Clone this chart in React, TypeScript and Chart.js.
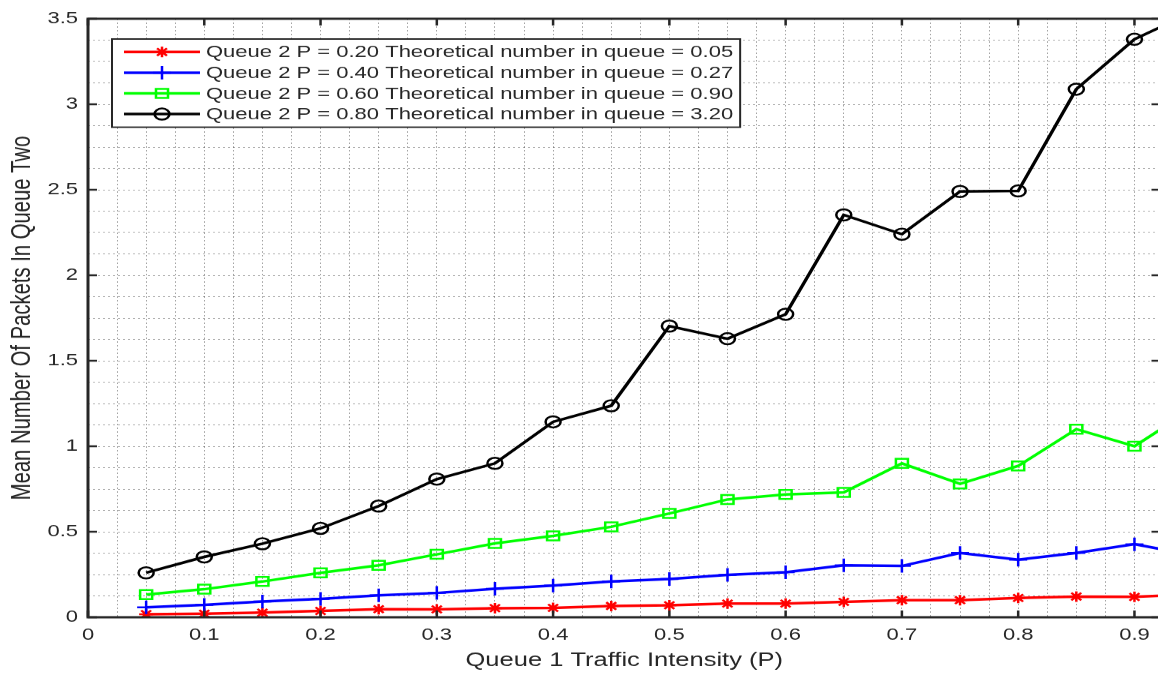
import React, { useEffect, useRef } from 'react';
import { Chart, registerables } from 'chart.js';

Chart.register(...registerables);

// ---------- data ----------
const xValues = [0.05, 0.1, 0.15, 0.2, 0.25, 0.3, 0.35, 0.4, 0.45, 0.5, 0.55, 0.6, 0.65, 0.7, 0.75, 0.8, 0.85, 0.9, 0.95];
const queue2P20 = [0.018, 0.021, 0.027, 0.037, 0.047, 0.046, 0.053, 0.055, 0.066, 0.07, 0.08, 0.08, 0.09, 0.1, 0.1, 0.113, 0.121, 0.119, 0.135];
const queue2P40 = [0.058, 0.072, 0.092, 0.107, 0.128, 0.142, 0.167, 0.185, 0.209, 0.224, 0.248, 0.263, 0.304, 0.3, 0.376, 0.337, 0.376, 0.427, 0.365];
const queue2P60 = [0.133, 0.164, 0.209, 0.26, 0.304, 0.368, 0.432, 0.476, 0.529, 0.607, 0.689, 0.718, 0.73, 0.9, 0.78, 0.885, 1.1, 1.0, 1.22];
const queue2P80 = [0.26, 0.353, 0.43, 0.52, 0.65, 0.808, 0.9, 1.143, 1.237, 1.703, 1.629, 1.772, 2.353, 2.24, 2.49, 2.493, 3.088, 3.38, 3.54];

const seriesLabels = [
  'Queue 2 P = 0.20 Theoretical number in queue = 0.05',
  'Queue 2 P = 0.40 Theoretical number in queue = 0.27',
  'Queue 2 P = 0.60 Theoretical number in queue = 0.90',
  'Queue 2 P = 0.80 Theoretical number in queue = 3.20',
];
const xTickLabels = ['0', '0.1', '0.2', '0.3', '0.4', '0.5', '0.6', '0.7', '0.8', '0.9'];
const yTickLabels = ['0', '0.5', '1', '1.5', '2', '2.5', '3', '3.5'];
const xAxisTitle = 'Queue 1 Traffic Intensity (P)';
const yAxisTitle = 'Mean Number Of Packets In Queue Two';

// ---------- styling ----------
const CANVAS_W = 1172;
const CANVAS_H = 900;
const SQUASH = 0.75;
const FONT = "'Liberation Sans', Arial, Helvetica, sans-serif";
const AXIS_COLOR = '#262626';
const GRID_COLOR = 'rgba(38,38,38,0.42)';

const seriesStyles = [
  { color: '#ff0000', pointStyle: 'star', radius: 7 },
  { color: '#0000ff', pointStyle: 'cross', radius: 9 },
  { color: '#00ff00', pointStyle: 'rect', radius: 8.5 },
  { color: '#000000', pointStyle: 'circle', radius: 7.5 },
];
const seriesValues = [queue2P20, queue2P40, queue2P60, queue2P80];

function drawMarker(ctx: CanvasRenderingContext2D, style: string, x: number, y: number, r: number) {
  ctx.beginPath();
  if (style === 'star' || style === 'cross') {
    const angles = style === 'star' ? [0, 45, 90, 135] : [0, 90];
    for (const a of angles) {
      const rad = (a * Math.PI) / 180;
      ctx.moveTo(x + Math.cos(rad) * r, y + Math.sin(rad) * r);
      ctx.lineTo(x - Math.cos(rad) * r, y - Math.sin(rad) * r);
    }
  } else if (style === 'rect') {
    const s = r * Math.SQRT1_2;
    ctx.rect(x - s, y - s, 2 * s, 2 * s);
  } else {
    ctx.arc(x, y, r, 0, Math.PI * 2);
  }
  ctx.stroke();
}

const frameAndLegend = {
  id: 'frameAndLegend',
  afterDatasetsDraw(chart: any) {
    const { ctx, chartArea } = chart;
    const { left, right, top, bottom } = chartArea;
    const xs = chart.scales.x;
    const ys = chart.scales.y;
    ctx.save();
    ctx.strokeStyle = AXIS_COLOR;
    ctx.lineWidth = 2.5;
    const tl = 9;
    ctx.beginPath();
    for (const lab of xTickLabels) {
      const px = xs.getPixelForValue(parseFloat(lab));
      ctx.moveTo(px, bottom);
      ctx.lineTo(px, bottom - tl);
      ctx.moveTo(px, top);
      ctx.lineTo(px, top + tl);
    }
    for (const lab of yTickLabels) {
      const py = ys.getPixelForValue(parseFloat(lab));
      ctx.moveTo(left, py);
      ctx.lineTo(left + tl, py);
      ctx.moveTo(right, py);
      ctx.lineTo(right - tl, py);
    }
    ctx.stroke();
    ctx.lineWidth = 3;
    ctx.strokeRect(left, top, right - left, bottom - top);

    // legend
    const boxL = 112;
    const boxT = 52;
    const rowH = 27.6;
    const firstRow = 69.3;
    const lineX0 = 124;
    const lineX1 = 200;
    const markX = 162;
    const textX = 206;
    ctx.font = `22px ${FONT}`;
    let maxW = 0;
    for (const s of seriesLabels) maxW = Math.max(maxW, ctx.measureText(s).width);
    const boxR = textX + maxW + 7;
    const boxB = firstRow + rowH * (seriesLabels.length - 1) + 17.5;
    ctx.fillStyle = '#ffffff';
    ctx.fillRect(boxL, boxT, boxR - boxL, boxB - boxT);
    ctx.lineWidth = 2;
    ctx.strokeStyle = AXIS_COLOR;
    ctx.strokeRect(boxL, boxT, boxR - boxL, boxB - boxT);
    seriesLabels.forEach((label, i) => {
      const y = firstRow + i * rowH;
      const st = seriesStyles[i];
      ctx.strokeStyle = st.color;
      ctx.lineWidth = 3.5;
      ctx.beginPath();
      ctx.moveTo(lineX0, y);
      ctx.lineTo(lineX1, y);
      ctx.stroke();
      ctx.lineWidth = 2.5;
      drawMarker(ctx, st.pointStyle, markX, y, st.radius);
      ctx.fillStyle = AXIS_COLOR;
      ctx.textBaseline = 'middle';
      ctx.textAlign = 'left';
      ctx.fillText(label, textX, y + 1);
    });
    ctx.restore();
  },
};

function nearMultiple(v: number, step: number) {
  const k = v / step;
  return Math.abs(k - Math.round(k)) < 1e-6;
}

export default function App() {
  const ref = useRef<HTMLCanvasElement>(null);
  useEffect(() => {
    document.body.style.margin = '0';
    const datasets = seriesValues.map((vals, i) => ({
      label: seriesLabels[i],
      data: xValues.map((x, j) => ({ x, y: vals[j] })),
      borderColor: seriesStyles[i].color,
      backgroundColor: 'rgba(0,0,0,0)',
      borderWidth: 3.5,
      pointStyle: seriesStyles[i].pointStyle as any,
      pointRadius: seriesStyles[i].radius,
      pointHoverRadius: seriesStyles[i].radius,
      pointBorderColor: seriesStyles[i].color,
      pointBackgroundColor: 'rgba(0,0,0,0)',
      pointBorderWidth: 2.5,
      tension: 0,
      fill: false,
      order: 4 - i,
    }));
    const gridOpts = {
      color: GRID_COLOR,
      lineWidth: 1,
      drawTicks: false,
      borderDash: [2, 3],
    };
    const chart = new Chart(ref.current as HTMLCanvasElement, {
      type: 'line',
      data: { datasets },
      plugins: [frameAndLegend],
      options: {
        animation: false,
        responsive: false,
        devicePixelRatio: 1,
        layout: { padding: { top: 25, right: 2, bottom: 0, left: 0 } },
        plugins: { legend: { display: false }, tooltip: { enabled: false }, title: { display: false } },
        scales: {
          x: {
            type: 'linear',
            min: 0,
            max: 0.9224,
            grid: gridOpts as any,
            border: { display: false, dash: [2, 3] },
            afterFit: (s: any) => {
              s.height = 77;
              s.paddingLeft = 0;
              s.paddingRight = 0;
            },
            ticks: {
              stepSize: 0.025,
              includeBounds: false,
              autoSkip: false,
              maxRotation: 0,
              padding: 11,
              color: AXIS_COLOR,
              font: { family: FONT, size: 22 },
              callback: (v: any) => (nearMultiple(Number(v), 0.1) ? xTickLabels[Math.round(Number(v) * 10)] : ''),
            },
            title: {
              display: true,
              text: xAxisTitle,
              color: AXIS_COLOR,
              font: { family: FONT, size: 25.5 },
              padding: { top: 0, bottom: 4 },
            },
          },
          y: {
            type: 'linear',
            min: 0,
            max: 3.5,
            grid: gridOpts as any,
            border: { display: false, dash: [2, 3] },
            afterFit: (s: any) => {
              s.width = 88;
            },
            ticks: {
              stepSize: 0.125,
              autoSkip: false,
              padding: 10,
              color: AXIS_COLOR,
              font: { family: FONT, size: 22 },
              callback: (v: any) => (nearMultiple(Number(v), 0.5) ? yTickLabels[Math.round(Number(v) * 2)] : ''),
            },
            title: {
              display: true,
              text: yAxisTitle,
              color: AXIS_COLOR,
              font: { family: FONT, size: 27 },
              padding: { top: 6, bottom: 0 },
            },
          },
        },
      },
    } as any);
    return () => chart.destroy();
  }, []);

  return (
    <div style={{ position: 'fixed', left: 0, top: 0, width: 1158, height: 675, overflow: 'hidden', background: '#ffffff' }}>
      <div style={{ width: CANVAS_W, height: CANVAS_H, transform: `scaleY(${SQUASH})`, transformOrigin: '0 0' }}>
        <canvas ref={ref} width={CANVAS_W} height={CANVAS_H} style={{ display: 'block', width: CANVAS_W, height: CANVAS_H }} />
      </div>
    </div>
  );
}
